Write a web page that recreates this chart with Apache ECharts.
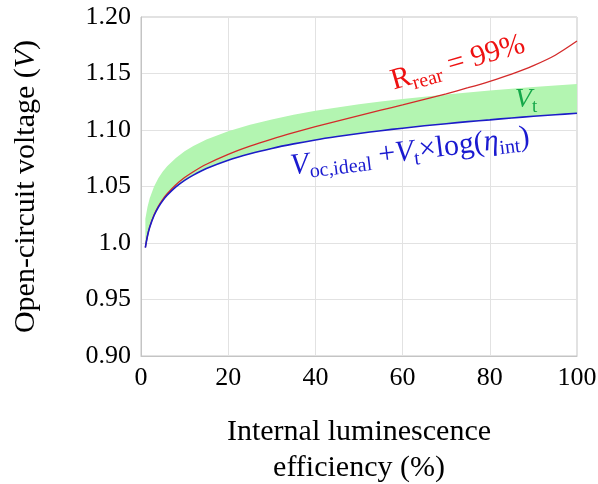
<!DOCTYPE html>
<html><head><meta charset="utf-8">
<script src="https://cdn.jsdelivr.net/npm/echarts@6/dist/echarts.min.js"></script>
<style>html,body{margin:0;padding:0;background:#fff}#c{width:598px;height:484px}</style>
</head><body><div id="c"></div>
<script>
// Internal luminescence efficiency (%)
const etaInt = [1, 1.5, 2, 3, 4, 5, 6, 8, 10, 12, 15, 20, 25, 30, 35, 40, 45, 50, 55, 60, 65, 70, 75, 80, 85, 90, 95, 100];
// Voc,ideal + Vt*log(eta_int) (blue)
const vocBlue = [0.9960, 1.0064, 1.0139, 1.0243, 1.0318, 1.0375, 1.0422, 1.0496, 1.0554, 1.0601, 1.0659, 1.0733, 1.0790, 1.0837, 1.0877, 1.0912, 1.0942, 1.0969, 1.0994, 1.1016, 1.1037, 1.1056, 1.1074, 1.1090, 1.1106, 1.1121, 1.1135, 1.1148];
// Upper edge of the Vt band (green)
const bandUpper = [1.0215, 1.0320, 1.0395, 1.0500, 1.0575, 1.0632, 1.0679, 1.0753, 1.0811, 1.0858, 1.0916, 1.0990, 1.1047, 1.1094, 1.1134, 1.1170, 1.1200, 1.1227, 1.1252, 1.1274, 1.1295, 1.1314, 1.1332, 1.1349, 1.1365, 1.1380, 1.1394, 1.1406];
// R_rear = 99% (red)
const vocRed = [0.9962, 1.0067, 1.0144, 1.0250, 1.0327, 1.0387, 1.0436, 1.0515, 1.0579, 1.0631, 1.0697, 1.0785, 1.0857, 1.0920, 1.0977, 1.1030, 1.1079, 1.1127, 1.1175, 1.1222, 1.1270, 1.1320, 1.1374, 1.1431, 1.1495, 1.1570, 1.1662, 1.1787];
const yTickLabels = ['0.90', '0.95', '1.0', '1.05', '1.10', '1.15', '1.20'];
const xTickLabels = ['0', '20', '40', '60', '80', '100'];

const FONT = 'Liberation Serif';
const pairs = (ys) => etaInt.map((x, i) => [x, ys[i]]);

const chart = echarts.init(document.getElementById('c'), null, {renderer: 'canvas'});
chart.setOption({
  animation: false,
  backgroundColor: '#fff',
  grid: {left: 141, top: 17, right: 21, bottom: 128, show: true, borderColor: '#c4c4c4', borderWidth: 1,
    containLabel: false, outerBoundsMode: 'none'},
  xAxis: {
    type: 'value', min: 0, max: 100, interval: 20,
    axisLine: {show: true, lineStyle: {color: '#c4c4c4'}},
    axisTick: {show: false},
    splitLine: {show: true, lineStyle: {color: '#e2e2e2'}},
    axisLabel: {color: '#000', fontFamily: FONT, fontSize: 26, margin: 9,
      formatter: (v) => xTickLabels[Math.round(v / 20)]},
    name: 'Internal luminescence\nefficiency (%)',
    nameLocation: 'middle', nameGap: 58,
    nameTextStyle: {color: '#000', fontFamily: FONT, fontSize: 30, lineHeight: 36}
  },
  yAxis: {
    type: 'value', min: 0.9, max: 1.2, interval: 0.05,
    axisLine: {show: true, lineStyle: {color: '#c4c4c4'}},
    axisTick: {show: false},
    splitLine: {show: true, lineStyle: {color: '#e2e2e2'}},
    axisLabel: {color: '#000', fontFamily: FONT, fontSize: 26, margin: 10,
      formatter: (v) => yTickLabels[Math.round((v - 0.9) / 0.05)]},
    name: 'Open-circuit voltage ({i|V})',
    nameLocation: 'middle', nameGap: 100, nameRotate: 90,
    nameTextStyle: {color: '#000', fontFamily: FONT, fontSize: 30,
      rich: {i: {fontFamily: FONT, fontSize: 30, fontStyle: 'italic', color: '#000'}}}
  },
  series: [
    {type: 'custom', name: 'Vt band', silent: true, z: 1, clip: true,
      data: pairs(vocBlue),
      renderItem: (params, api) => {
        if (params.dataIndex !== 0) return null;
        const pts = [];
        for (let i = 0; i < etaInt.length; i++) pts.push(api.coord([etaInt[i], bandUpper[i]]));
        for (let i = etaInt.length - 1; i >= 0; i--) pts.push(api.coord([etaInt[i], vocBlue[i]]));
        return {type: 'polygon', shape: {points: pts}, style: {fill: '#b3f5b1', stroke: null}};
      }},
    {type: 'line', name: 'R_rear = 99%', data: pairs(vocRed), symbol: 'none', smooth: 0.3,
      lineStyle: {color: '#d42a2a', width: 1.3}, z: 3},
    {type: 'line', name: 'Voc ideal', data: pairs(vocBlue), symbol: 'none', smooth: 0.3,
      lineStyle: {color: '#1c1cc8', width: 1.6}, z: 4}
  ],
  graphic: [
    {type: 'text', x: 458, y: 63, rotation: 16 * Math.PI / 180, z: 10,
      style: {text: '{a|R}{s|rear}{a| = 99%}', align: 'center', verticalAlign: 'middle',
        rich: {
          a: {fontFamily: FONT, fontSize: 30, fill: '#ee1111', lineHeight: 36, verticalAlign: 'middle'},
          s: {fontFamily: FONT, fontSize: 20, fill: '#ee1111', lineHeight: 19, verticalAlign: 'bottom'}
        }}},
    {type: 'text', x: 526, y: 100, z: 10,
      style: {text: '{i|V}{s|t}', align: 'center', verticalAlign: 'middle',
        rich: {
          i: {fontFamily: FONT, fontSize: 28, fontStyle: 'italic', fill: '#15a84a', lineHeight: 34, verticalAlign: 'middle'},
          s: {fontFamily: FONT, fontSize: 19, fill: '#15a84a', lineHeight: 18, verticalAlign: 'bottom'}
        }}},
    {type: 'text', x: 410, y: 152, rotation: 7 * Math.PI / 180, z: 10,
      style: {text: '{i|V}{s|oc,ideal}{a| +}{i|V}{s|t}{a|×log(}{i|η}{s|int}{a|)}', align: 'center', verticalAlign: 'middle',
        rich: {
          a: {fontFamily: FONT, fontSize: 30, fill: '#1a1ad0', lineHeight: 36, verticalAlign: 'middle'},
          i: {fontFamily: FONT, fontSize: 30, fontStyle: 'italic', fill: '#1a1ad0', lineHeight: 36, verticalAlign: 'middle'},
          s: {fontFamily: FONT, fontSize: 20, fill: '#1a1ad0', lineHeight: 19, verticalAlign: 'bottom'}
        }}}
  ]
});
</script></body></html>
